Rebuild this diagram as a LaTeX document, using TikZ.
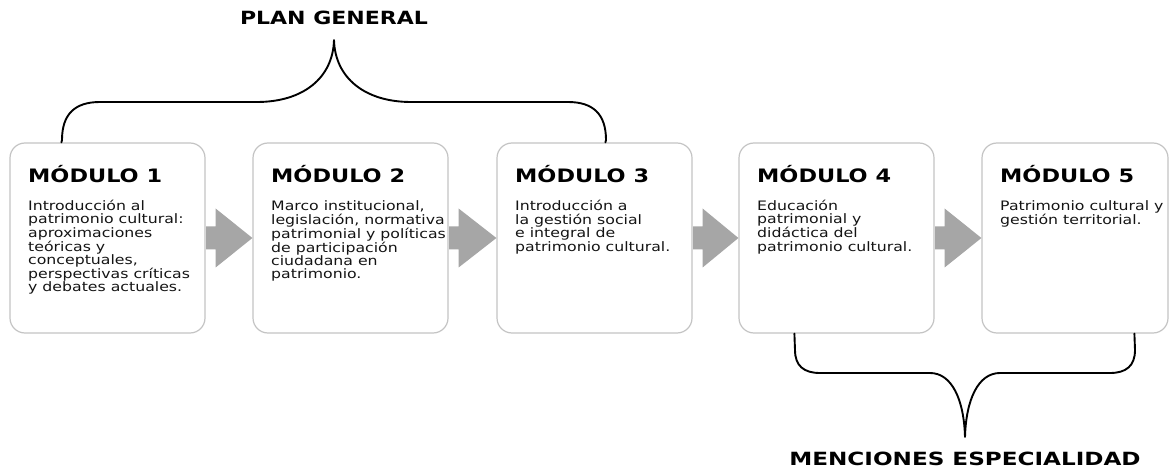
\documentclass[tikz,border=0pt]{standalone}
\usepackage{fontspec}
\setmainfont{DejaVu Sans}
\newfontfamily\bodyfont{DejaVu Sans}[FakeStretch=1.21]
\newfontfamily\headfont{DejaVu Sans}[FakeStretch=1.21]
\newfontfamily\mencfont{DejaVu Sans}[FakeStretch=1.27]
\usetikzlibrary{calc}
\definecolor{boxgray}{HTML}{C4C4C4}
\definecolor{arrgray}{HTML}{A6A6A6}
\definecolor{txtgray}{HTML}{141414}
\begin{document}
\begin{tikzpicture}[x=1pt,y=-1pt,
  modbox/.style={draw=boxgray,line width=1.2pt,rounded corners=15pt,minimum height=190pt,minimum width=195pt,inner sep=0pt,fill=white},
  ttl/.style={anchor=base west,inner sep=0pt,text=black,font=\headfont\bfseries\fontsize{18.5}{20}\selectfont},
  bodytxt/.style={anchor=base west,inner sep=0pt,text=txtgray,font=\bodyfont\fontsize{13}{11.7}\selectfont},
  hdr/.style={anchor=base,inner sep=0pt,text=black,font=\headfont\bfseries\fontsize{18.2}{20}\selectfont},
  brace/.style={draw=black,line width=1.9pt,line cap=round,line join=round},
  blockarrow/.style={fill=arrgray,draw=none}]
\useasboundingbox (0,0) rectangle (1170,470);
\fill[white] (0,0) rectangle (1170,470);

% boxes
\node[modbox] (m1) at (107.5,238) {};
\node[modbox] (m2) at (350.5,238) {};
\node[modbox] (m3) at (594.5,238) {};
\node[modbox] (m4) at (836.5,238) {};
\node[modbox,minimum width=186pt] (m5) at (1075,238) {};

% titles
\node[ttl] (t1) at (28,183) {MÓDULO 1};
\node[ttl] (t2) at (271,183) {MÓDULO 2};
\node[ttl] (t3) at (515,183) {MÓDULO 3};
\node[ttl] (t4) at (757,183) {MÓDULO 4};
\node[ttl] (t5) at (1000,183) {MÓDULO 5};

% body texts
\node[bodytxt] (d1) at (28,210.5) {\begin{tabular}[t]{@{}l@{}}Introducción al\\patrimonio cultural:\\aproximaciones\\teóricas y\\conceptuales,\\perspectivas críticas\\y debates actuales.\end{tabular}};
\node[bodytxt] (d2) at (271,210.5) {\begin{tabular}[t]{@{}l@{}}Marco institucional,\\legislación, normativa\\patrimonial y políticas\\de participación\\ciudadana en\\patrimonio.\end{tabular}};
\node[bodytxt] (d3) at (515,210.5) {\begin{tabular}[t]{@{}l@{}}Introducción a\\la gestión social\\e integral de\\patrimonio cultural.\end{tabular}};
\node[bodytxt] (d4) at (757,210.5) {\begin{tabular}[t]{@{}l@{}}Educación\\patrimonial y\\didáctica del\\patrimonio cultural.\end{tabular}};
\node[bodytxt] (d5) at (1000,210.5) {\begin{tabular}[t]{@{}l@{}}Patrimonio cultural y\\gestión territorial.\end{tabular}};

% block arrows between boxes
\foreach \a/\b in {m1/m2,m2/m3,m3/m4,m4/m5}{
  \path[blockarrow] ($(\a.east)+(0.6,-11.5)$) -- ($(\a.east)+(10,-11.5)$) -- ($(\a.east)+(10,-29.5)$)
     -- (\b.west) -- ($(\a.east)+(10,29.5)$) -- ($(\a.east)+(10,11.5)$) -- ($(\a.east)+(0.6,11.5)$) -- cycle;
}

% labels
\node[hdr] (plan) at (334,25) {PLAN GENERAL};
\node[hdr,font=\mencfont\bfseries\fontsize{18.2}{20}\selectfont] (menc) at (965,465) {MENCIONES ESPECIALIDAD};

% top brace
\coordinate (pl) at ($(m1.north west)+(52,0)$);
\coordinate (pr) at ($(m3.north west)+(109,0)$);
\coordinate (ptip) at ($(plan.base)+(0,15)$);
\draw[brace] (pl) -- (62,140) .. controls (62,114) and (75,102) .. (100,102) -- (257,102)
  .. controls (303,102) and (333,78) .. (ptip)
  .. controls (335,78) and (365,102) .. (411,102) -- (568,102)
  .. controls (593,102) and (606,114) .. (606,140) -- (pr);

% bottom brace
\coordinate (ml) at ($(m4.south west)+(56,0)$);
\coordinate (mr) at ($(m5.south west)+(153,0)$);
\coordinate (mtip) at ($(menc.base)+(0,-28)$);
\draw[brace] (ml) -- (795,350) .. controls (795,366) and (804,373) .. (820,373) -- (930,373)
  .. controls (952,373) and (964,400) .. (mtip)
  .. controls (966,400) and (978,373) .. (1000,373) -- (1110,373)
  .. controls (1126,373) and (1135,366) .. (1135,350) -- (mr);
\end{tikzpicture}
\end{document}
